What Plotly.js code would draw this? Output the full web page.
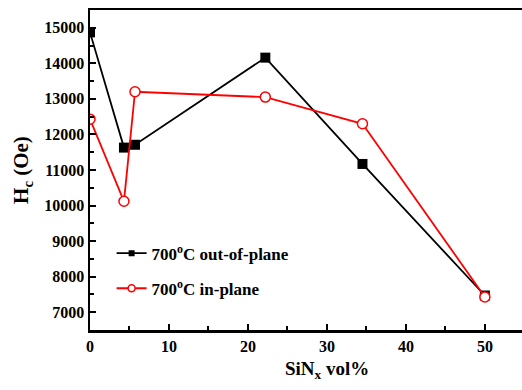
<!DOCTYPE html>
<html>
<head>
<meta charset="utf-8">
<script src="https://cdn.plot.ly/plotly-3.0.1.min.js"></script>
<style>html,body{margin:0;padding:0;background:#fff;overflow:hidden}#chart{width:522px;height:390px}</style>
</head>
<body>
<div id="chart"></div>
<script>
const sinxVol = [0, 4.3, 5.7, 22.2, 34.5, 50];
const hcOutOfPlane = [14870, 11630, 11710, 14160, 11170, 7470];
const hcInPlane = [12430, 10120, 13200, 13050, 12300, 7430];
const seriesNames = ['700<sup>o</sup>C out-of-plane', '700<sup>o</sup>C in-plane'];
const yTicks = [7000, 8000, 9000, 10000, 11000, 12000, 13000, 14000, 15000];
const xTicks = [0, 10, 20, 30, 40, 50];

const fontFam = '"Liberation Serif", "Times New Roman", serif';

const traces = [
  {
    x: sinxVol, y: hcOutOfPlane, name: seriesNames[0], showlegend: false,
    mode: 'lines+markers', type: 'scatter',
    line: {color: '#000000', width: 1.8},
    marker: {symbol: 'square', size: 10, color: '#000000'}
  },
  {
    x: sinxVol, y: hcInPlane, name: seriesNames[1], showlegend: false,
    mode: 'lines+markers', type: 'scatter',
    line: {color: '#ff0000', width: 1.8},
    marker: {symbol: 'circle', size: 10, color: '#ffffff', line: {color: '#ff0000', width: 1.5}}
  },
  // legend-only entries (smaller legend symbols, as in the reference)
  {
    x: [null], y: [null], name: seriesNames[0], legendgroup: 'a',
    mode: 'lines+markers', type: 'scatter',
    line: {color: '#000000', width: 1.8},
    marker: {symbol: 'square', size: 6, color: '#000000'}
  },
  {
    x: [null], y: [null], name: seriesNames[1], legendgroup: 'b',
    mode: 'lines+markers', type: 'scatter',
    line: {color: '#ff0000', width: 1.8},
    marker: {symbol: 'circle', size: 7, color: '#ffffff', line: {color: '#ff0000', width: 1.5}}
  }
];

const layout = {
  width: 522, height: 390,
  margin: {l: 90, r: 0, t: 10, b: 60},
  paper_bgcolor: '#ffffff', plot_bgcolor: '#ffffff',
  font: {family: fontFam, size: 14, color: '#000000'},
  showlegend: true,
  legend: {
    x: 0.05, y: 0.295, xanchor: 'left', yanchor: 'top',
    bgcolor: 'rgba(0,0,0,0)', traceorder: 'grouped', tracegroupgap: 10,
    font: {family: fontFam, size: 17, color: '#000000', weight: 'bold'}
  },
  xaxis: {
    range: [0, 54.7], tickvals: xTicks, ticktext: xTicks.map(String),
    ticks: 'inside', ticklen: 6, tickwidth: 2, tickcolor: '#000',
    minor: {dtick: 5, ticks: 'inside', ticklen: 4, tickwidth: 2, tickcolor: '#000'},
    showline: true, linewidth: 2.5, linecolor: '#000', mirror: true,
    showgrid: false, zeroline: false,
    tickfont: {family: fontFam, size: 16, weight: 'bold'}
  },
  yaxis: {
    range: [6500, 15500], tickvals: yTicks, ticktext: yTicks.map(String),
    ticks: 'inside', ticklen: 6, tickwidth: 2, tickcolor: '#000',
    minor: {dtick: 500, ticks: 'inside', ticklen: 4, tickwidth: 2, tickcolor: '#000'},
    showline: true, linewidth: 2.5, linecolor: '#000',
    showgrid: false, zeroline: false,
    tickfont: {family: fontFam, size: 16, weight: 'bold'},
    title: {text: 'H<sub>c</sub> (Oe)', standoff: 10, font: {family: fontFam, size: 21, weight: 'bold'}}
  },
  annotations: [
    {
      text: 'SiN<sub>x</sub> vol%', xref: 'paper', yref: 'paper',
      x: 0.549, y: -0.125, xanchor: 'center', yanchor: 'middle', showarrow: false,
      font: {family: fontFam, size: 19, weight: 'bold', color: '#000'}
    }
  ]
};

Plotly.newPlot('chart', traces, layout, {displayModeBar: false, staticPlot: true});
</script>
</body>
</html>
